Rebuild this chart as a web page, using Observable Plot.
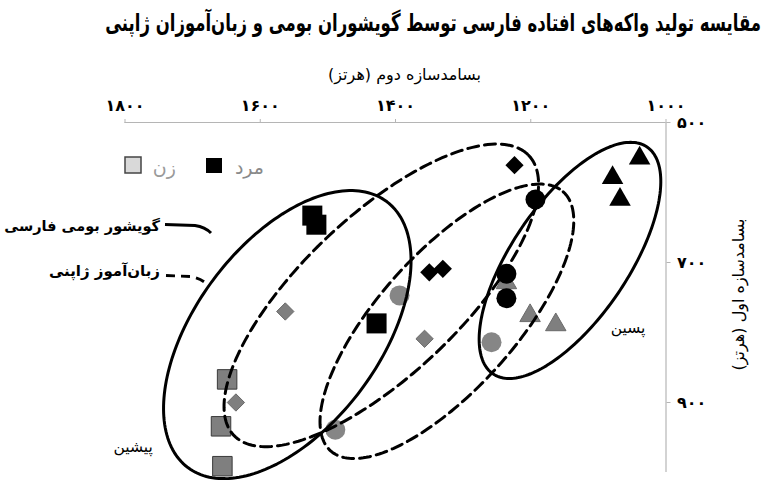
<!DOCTYPE html>
<html><head><meta charset="utf-8">
<script src="https://cdn.jsdelivr.net/npm/d3@7"></script>
<script src="https://cdn.jsdelivr.net/npm/@observablehq/plot@0.6"></script>
<style>
body{margin:0;background:#fff;font-family:"DejaVu Sans",sans-serif;}
#wrap{position:relative;width:766px;height:482px;overflow:hidden;}
#title{position:absolute;top:9px;right:5px;direction:rtl;font-weight:bold;font-size:16.5px;white-space:nowrap;color:#000;transform:scaleY(1.45);transform-origin:right top;}
#legend{position:absolute;left:0;top:0;pointer-events:none;}
</style></head><body>
<div id="wrap"><div id="chart"></div><div id="title"></div><svg id="legend" width="766" height="482"></svg></div>
<script>
// ---- text ----
const titleText = "مقایسه تولید واکه‌های افتاده فارسی توسط گویشوران بومی و زبان‌آموزان ژاپنی";
const xLabel = "بسامدسازه دوم (هرتز)";
const yLabel = "بسامدسازه اول (هرتز)";
const xTicks = [1800, 1600, 1400, 1200, 1000];
const yTicks = [500, 700, 900];
const genderLabels = ["زن", "مرد"];
const groupLabels = ["گویشور بومی فارسی", "زبان‌آموز ژاپنی"];
const regionLabels = ["پیشین", "پسین"];
const regionF2 = [1788, 1056];
const regionF1 = [964, 794];

// ---- data (F2, F1 in Hz) ----
const maleSquareF2 = [1523, 1517, 1428];
const maleSquareF1 = [633, 646, 787];
const femaleSquareF2 = [1649, 1658, 1656];
const femaleSquareF1 = [867, 934, 991];
const maleDiamondF2 = [1224, 1350, 1330];
const maleDiamondF1 = [561, 714, 709];
const femaleDiamondF2 = [1563, 1357, 1636];
const femaleDiamondF1 = [770, 809, 900];
const maleCircleF2 = [1193, 1236, 1236];
const maleCircleF1 = [610, 716, 751];
const femaleCircleF2 = [1394, 1258, 1489];
const femaleCircleF1 = [747, 814, 939];
const maleTriangleF2 = [1039, 1079, 1068];
const maleTriangleF1 = [551, 579, 610];
const femaleTriangleF2 = [1236, 1201, 1163];
const femaleTriangleF1 = [729, 776, 789];

// ---- ellipses (centre, semi-axis vectors in Hz) ----
const ellipseGroup = ["native", "native", "learner", "learner"];
const ellipseCF2 = [1560, 1142, 1421, 1324];
const ellipseCF1 = [803, 697, 747, 784];
const ellipseMajF2 = [-147, -114, -218, -172];
const ellipseMajF1 = [-190, -162, -200, -185];
const ellipseMinF2 = [-109, -71, -81, -75];
const ellipseMinF1 = [79, 47, 82, 65];

const pts = (xs, ys) => xs.map((x, i) => ({F2: x, F1: ys[i]}));
const fa = n => String(n).replace(/\d/g, c => "۰۱۲۳۴۵۶۷۸۹"[c]);

const ellipses = ellipseCF2.map((cx, k) => {
  const out = [];
  for (let i = 0; i <= 200; i++) {
    const t = i / 200 * 2 * Math.PI;
    out.push({
      F2: cx + ellipseMajF2[k] * Math.cos(t) + ellipseMinF2[k] * Math.sin(t),
      F1: ellipseCF1[k] + ellipseMajF1[k] * Math.cos(t) + ellipseMinF1[k] * Math.sin(t)
    });
  }
  return out;
});

const gray = "#7f7f7f";
const chart = Plot.plot({
  width: 766, height: 482,
  marginLeft: 124.5, marginRight: 100.5, marginTop: 122, marginBottom: 10,
  style: {fontFamily: "DejaVu Sans", background: "white", overflow: "visible"},
  x: {domain: [1800, 1000]},
  y: {domain: [500, 1000], reverse: true},
  marks: [
    Plot.ruleY([500], {stroke: "#b5b5b5", strokeWidth: 1.2}),
    Plot.ruleX([1000], {stroke: "#c4c4c4", strokeWidth: 1.5}),
    Plot.axisX({anchor: "top", ticks: xTicks, tickSize: 4, tickPadding: 8, tickFormat: fa,
      fontSize: 16, fontWeight: "bold", stroke: "#b5b5b5", fill: "#000", label: null}),
    Plot.axisY({anchor: "right", ticks: yTicks, tickSize: 4, tickPadding: 7, tickFormat: fa,
      fontSize: 16, fontWeight: "bold", stroke: "#b5b5b5", fill: "#000", label: null}),
    Plot.text([xLabel], {frameAnchor: "top", dy: -54, dx: 9, fontSize: 16, textAnchor: "middle", fill: "#000"}),
    Plot.text([yLabel], {frameAnchor: "right", dx: 73, dy: -3, rotate: -90, fontSize: 16, textAnchor: "middle", fill: "#000"}),
    // gray (female) markers
    Plot.dot(pts(femaleSquareF2, femaleSquareF1), {x: "F2", y: "F1", symbol: "square", r: 11, fill: gray, stroke: "#3a3a3a", strokeWidth: 1}),
    Plot.dot(pts(femaleDiamondF2, femaleDiamondF1), {x: "F2", y: "F1", symbol: "diamond2", r: 7.8, fill: gray, stroke: "#6a6a6a", strokeWidth: 1}),
    Plot.dot(pts(femaleCircleF2, femaleCircleF1), {x: "F2", y: "F1", symbol: "circle", r: 10, fill: "#868686"}),
    Plot.dot(pts(femaleTriangleF2, femaleTriangleF1), {x: "F2", y: "F1", symbol: "triangle", r: 7.6, fill: gray, stroke: "#6a6a6a", strokeWidth: 1}),
    // black (male) markers
    Plot.dot(pts(maleSquareF2, maleSquareF1), {x: "F2", y: "F1", symbol: "square", r: 11.3, fill: "#000"}),
    Plot.dot(pts(maleDiamondF2, maleDiamondF1), {x: "F2", y: "F1", symbol: "diamond2", r: 8.2, fill: "#000"}),
    Plot.dot(pts(maleCircleF2, maleCircleF1), {x: "F2", y: "F1", symbol: "circle", r: 10, fill: "#000"}),
    Plot.dot(pts(maleTriangleF2, maleTriangleF1), {x: "F2", y: "F1", symbol: "triangle", r: 8, fill: "#000"}),
    // ellipses
    ...ellipses.map((e, k) => Plot.line(e, {x: "F2", y: "F1", stroke: "#000", strokeWidth: 3,
      strokeDasharray: ellipseGroup[k] === "learner" ? "11,6" : null, clip: false})),
    Plot.text(regionLabels.map((t, i) => ({t, F2: regionF2[i], F1: regionF1[i]})),
      {x: "F2", y: "F1", text: "t", fontSize: 15.5, fill: "#000"})
  ]
});
document.getElementById("chart").appendChild(chart);
const ar = /[\u0621-\u064A\u067E\u0686\u0698\u06A9\u06AF\u06CC]/;
d3.select(chart).selectAll("text").each(function() {
  if (ar.test(this.textContent)) d3.select(this).attr("direction", "rtl");
});
document.getElementById("title").textContent = titleText;

// ---- legend overlay ----
const lg = d3.select("#legend");
lg.append("rect").attr("x", 125).attr("y", 157).attr("width", 16).attr("height", 16)
  .attr("fill", "#d9d9d9").attr("stroke", "#444").attr("stroke-width", 1.5);
lg.append("text").attr("x", 176).attr("y", 174).attr("direction", "rtl")
  .attr("font-size", 19).attr("fill", "#9a9a9a").text(genderLabels[0]);
lg.append("rect").attr("x", 206).attr("y", 158).attr("width", 16).attr("height", 15).attr("fill", "#000");
lg.append("text").attr("x", 264).attr("y", 174).attr("direction", "rtl")
  .attr("font-size", 19).attr("fill", "#8a8a8a").text(genderLabels[1]);
lg.append("text").attr("x", 160).attr("y", 231).attr("direction", "rtl")
  .attr("font-size", 14.5).attr("font-weight", "bold").attr("fill", "#000").text(groupLabels[0]);
lg.append("text").attr("x", 160).attr("y", 276).attr("direction", "rtl")
  .attr("font-size", 15).attr("font-weight", "bold").attr("fill", "#000").text(groupLabels[1]);
lg.append("path").attr("d", "M165,224.5 L195,225.5 Q205,227 211,233")
  .attr("fill", "none").attr("stroke", "#000").attr("stroke-width", 3);
lg.append("path").attr("d", "M166,275.5 L190,276.5 Q201,278 208,285")
  .attr("fill", "none").attr("stroke", "#000").attr("stroke-width", 3).attr("stroke-dasharray", "9,6");
</script>
</body></html>
